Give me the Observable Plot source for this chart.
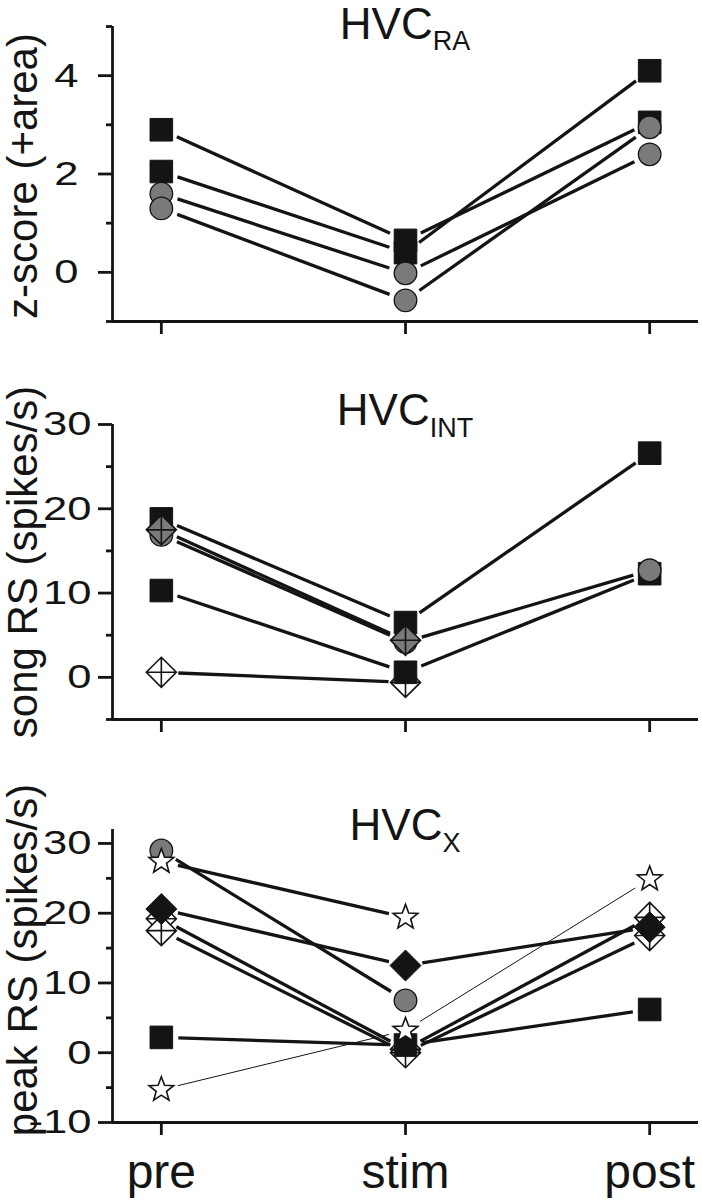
<!DOCTYPE html>
<html><head><meta charset="utf-8">
<script src="https://cdn.jsdelivr.net/npm/d3@7"></script>
<script src="https://cdn.jsdelivr.net/npm/@observablehq/plot@0.6"></script>
<style>
body{margin:0;background:#fff;}
#root{width:702px;}
#root svg{display:block;}
</style></head><body><div id="root"></div>
<script>
// ---------- data ----------
const conditions = ["pre", "stim", "post"];
const xIndex = [0, 1, 2];

// HVC_RA
const raSymbols = ["square", "square", "circle", "circle"];
const raPre  = [2.9, 2.05, 1.6, 1.3];
const raStim = [0.65, 0.4, -0.02, -0.57];
const raPost = [3.05, 4.1, 2.4, 2.95];
const raWidths = [3.3, 3.3, 3.3, 3.3];
const raMajor = [0, 2, 4];
const raMinor = [-1, 1, 3, 5];

// HVC_INT
const intSymbols = ["whiteDiamondCross", "square", "square", "circle", "grayDiamondCross"];
const intPre  = [0.6, 18.8, 10.3, 16.9, 17.5];
const intStim = [-0.6, 6.5, 0.6, 4.2, 4.4];
const intPost = [null, 26.6, 12.3, 12.7, null];
const intWidths = [3.3, 3.3, 3.3, 3.3, 3.3];
const intMajor = [0, 10, 20, 30];
const intMinor = [-5, 5, 15, 25];

// HVC_X
const xSymbols = ["circle", "star", "whiteDiamondCross", "whiteDiamondCross", "blackDiamond", "square", "star"];
const xPre  = [29.0, 27.4, 19.2, 17.5, 20.6, 2.2, -5.3];
const xStim = [7.5, 19.4, 0.5, 0.0, 12.5, 1.1, 3.2];
const xPost = [null, null, 19.4, 16.8, 18.0, 6.2, 24.9];
const xWidths = [3.3, 3.3, 3.3, 3.3, 3.3, 3.3, 1];
const xMajor = [-10, 0, 10, 20, 30];
const xMinor = [-5, 5, 15, 25];

// ---------- styling ----------
const FONT = "'Liberation Sans', Arial, Helvetica, sans-serif";
const INK = "#141414";
const GRAY = "#7a7a7a";

function sym(draw) { return {draw(ctx, size) { draw(ctx, Math.sqrt(size / Math.PI)); }}; }
function diamondPath(c, r) { c.moveTo(0, -r); c.lineTo(r, 0); c.lineTo(0, r); c.lineTo(-r, 0); c.closePath(); }
const SYM = {
  square: sym((c, r) => { c.moveTo(-r, -r); c.lineTo(r, -r); c.lineTo(r, r); c.lineTo(-r, r); c.closePath(); }),
  circle: sym((c, r) => { c.moveTo(r, 0); c.arc(0, 0, r, 0, 2 * Math.PI); }),
  diamond: sym((c, r) => diamondPath(c, r)),
  diamondCross: sym((c, r) => { diamondPath(c, r); c.moveTo(0, -r); c.lineTo(0, r); c.moveTo(-r, 0); c.lineTo(r, 0); }),
  star: sym((c, r) => {
    const ri = r * 0.42;
    for (let k = 0; k < 10; k++) {
      const a = -Math.PI / 2 + k * Math.PI / 5, rr = k % 2 ? ri : r;
      const px = rr * Math.cos(a), py = rr * Math.sin(a);
      if (k) c.lineTo(px, py); else c.moveTo(px, py);
    }
    c.closePath();
  })
};
const MARK = {
  square: {symbol: SYM.square, r: 11.3, fill: INK, stroke: INK, strokeWidth: 1},
  circle: {symbol: SYM.circle, r: 11.3, fill: GRAY, stroke: INK, strokeWidth: 1.3},
  grayDiamondCross: {symbol: SYM.diamondCross, r: 15, fill: GRAY, stroke: INK, strokeWidth: 1.6},
  whiteDiamondCross: {symbol: SYM.diamondCross, r: 15, fill: "white", stroke: INK, strokeWidth: 1.6},
  blackDiamond: {symbol: SYM.diamond, r: 15.5, fill: INK, stroke: INK, strokeWidth: 1},
  star: {symbol: SYM.star, r: 13, fill: "white", stroke: INK, strokeWidth: 1.6}
};

function panel(cfg) {
  const {symbols, pre, stim, post, widths, domain, major, minor, height, marginTop, marginBottom,
         ylabel, sub, titleY, subDy, tickPadding, showX, labelDy} = cfg;
  const series = symbols.map((s, i) => ({s, w: widths[i], v: [pre[i], stim[i], post[i]]}));
  const segs = [];
  series.forEach(se => {
    for (let k = 0; k < 2; k++) {
      if (se.v[k] != null && se.v[k + 1] != null)
        segs.push({x1: xIndex[k], y1: se.v[k], x2: xIndex[k + 1], y2: se.v[k + 1], w: se.w});
    }
  });
  const dotMarks = series.map(se => {
    const pts = se.v.map((v, k) => ({x: xIndex[k], y: v})).filter(d => d.y != null);
    return Plot.dot(pts, {x: "x", y: "y", ...MARK[se.s]});
  });
  const chart = Plot.plot({
    width: 702, height, marginLeft: 112, marginRight: 4, marginTop, marginBottom,
    style: {fontFamily: FONT, color: INK, background: "white", overflow: "visible"},
    x: {type: "linear", domain: [-0.2, 2.2], axis: null},
    y: {domain, axis: null},
    marks: [
      Plot.arrow(segs, {x1: "x1", y1: "y1", x2: "x2", y2: "y2", stroke: INK, strokeWidth: "w",
        headLength: 0, insetStart: 17, insetEnd: 17, strokeLinecap: "butt"}),
      Plot.ruleX([-0.2], {stroke: INK, strokeWidth: 2.8}),
      Plot.ruleY([domain[0]], {stroke: INK, strokeWidth: 2.8}),
      Plot.axisY(major, {tickSize: 14, tickPadding, tickFormat: d => String(d), fontSize: 34,
        strokeWidth: 2.8, stroke: INK, label: null}),
      Plot.axisY(minor, {tickSize: 6, tickFormat: () => "", strokeWidth: 2.8, stroke: INK, label: null}),
      Plot.axisX(xIndex, {tickSize: 13, tickPadding: 18, fontSize: 48,
        tickFormat: showX ? (i => conditions[i]) : (() => ""), strokeWidth: 2.8, stroke: INK, label: null}),
      Plot.text([ylabel], {text: d => d, frameAnchor: "left", rotate: -90, dx: -89, dy: labelDy,
        fontSize: 42, lineAnchor: "middle", textAnchor: "middle", fill: INK}),
      ...dotMarks
    ]
  });
  const sx = chart.scale("x").apply(xIndex[1]);
  const t = d3.select(chart).append("text").attr("x", sx).attr("y", titleY)
    .attr("text-anchor", "middle").attr("font-family", FONT).attr("fill", INK);
  t.append("tspan").attr("font-size", 44).text("HVC");
  t.append("tspan").attr("font-size", 27).attr("dy", subDy).text(sub);
  return chart;
}

const root = document.getElementById("root");
const charts = [
  panel({symbols: raSymbols, pre: raPre, stim: raStim, post: raPost, widths: raWidths,
    domain: [-1, 5], major: raMajor, minor: raMinor, height: 360, marginTop: 26, marginBottom: 39,
    ylabel: "z-score (+area)", sub: "RA", titleY: 39, subDy: 11, tickPadding: 20, showX: false, labelDy: 2}),
  panel({symbols: intSymbols, pre: intPre, stim: intStim, post: intPost, widths: intWidths,
    domain: [-5, 30], major: intMajor, minor: intMinor, height: 400, marginTop: 64, marginBottom: 41,
    ylabel: "song RS (spikes/s)", sub: "INT", titleY: 65, subDy: 12, tickPadding: 7, showX: false, labelDy: -10}),
  panel({symbols: xSymbols, pre: xPre, stim: xStim, post: xPost, widths: xWidths,
    domain: [-10, 32], major: xMajor, minor: xMinor, height: 440, marginTop: 69, marginBottom: 78,
    ylabel: "peak RS (spikes/s)", sub: "X", titleY: 80, subDy: 12, tickPadding: 7, showX: true, labelDy: -16})
];
charts.forEach(c => root.append(c));
// widen the y tick labels (the reference's digits are horizontally stretched)
d3.selectAll('#root g[aria-label="y-axis tick label"] text').each(function() {
  const len = this.getComputedTextLength();
  if (len > 0) d3.select(this).attr("textLength", len * 1.28).attr("lengthAdjust", "spacingAndGlyphs");
});
</script></body></html>
